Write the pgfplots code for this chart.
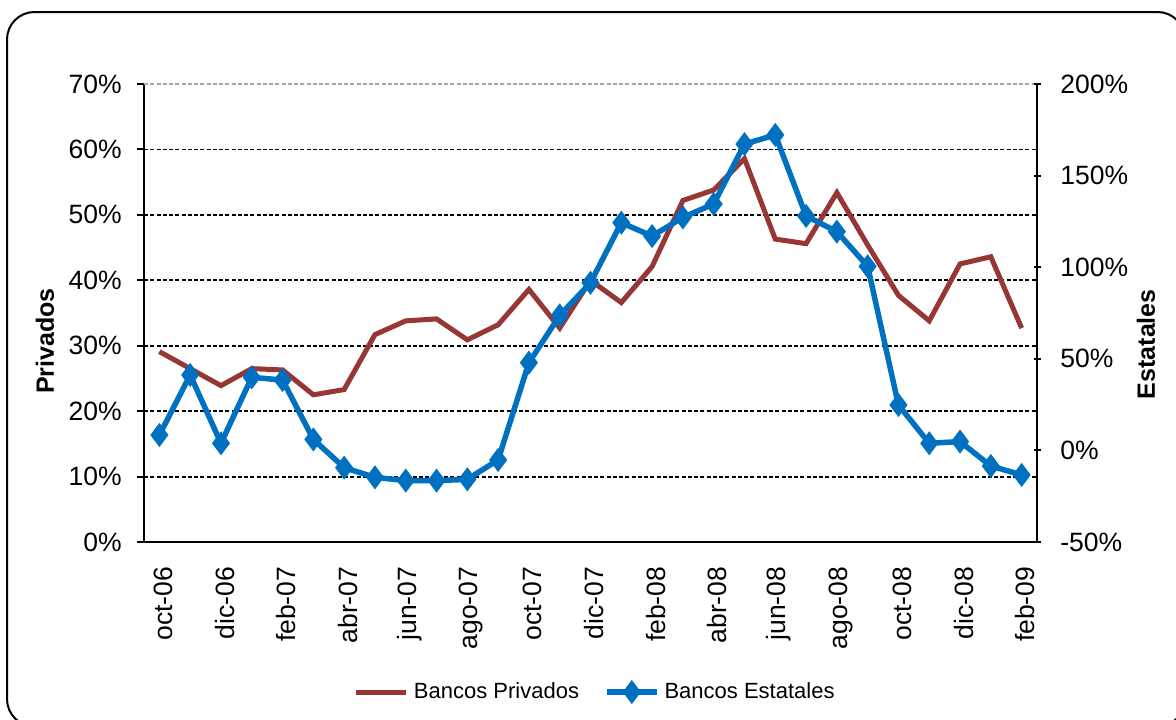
\documentclass[border=0pt]{standalone}
\usepackage{fontspec}
\setmainfont{Liberation Sans}
\usepackage{pgfplots}
\pgfplotsset{compat=1.18}
\usepackage{pgfplotstable}

\definecolor{privcol}{RGB}{150,55,53}
\definecolor{estcol}{RGB}{0,112,192}

% month index, Bancos Privados (left axis, %), Bancos Estatales (right axis, %)
\pgfplotstableread{
i priv est
0 29.1 8.4
1 26.5 41.2
2 23.9 3.9
3 26.5 39.9
4 26.3 38.4
5 22.5 6.0
6 23.3 -9.4
7 31.7 -14.7
8 33.8 -16.5
9 34.1 -16.5
10 30.9 -15.8
11 33.2 -5.2
12 38.6 47.9
13 32.7 73.7
14 40.0 91.5
15 36.6 124.3
16 42.1 117.0
17 52.2 127.2
18 53.8 134.5
19 58.6 167.2
20 46.3 172.2
21 45.6 128.0
22 53.4 119.4
23 45.4 100.5
24 37.7 24.8
25 33.8 3.9
26 42.5 4.8
27 43.6 -8.5
28 32.7 -13.4
}\datatable

\pgfplotsset{
  common/.style={
    at={(57.6pt,70.8pt)}, anchor=south west,
    scale only axis, width=357.2pt, height=183.2pt,
    xmin=-0.5, xmax=28.5,
    /pgf/number format/assume math mode=true,
    tick label style={font=\fontsize{10.6}{12}\selectfont},
    tick style={black, line width=0.8pt},
    major tick length=2.8pt,
    axis line style={black, line width=0.9pt},
    clip=false,
  },
}

\begin{document}
\begin{tikzpicture}
% outer frame
\draw[black, line width=0.8pt, rounded corners=11pt] (2.8pt,-3pt) rectangle (474pt,282.8pt);

\begin{axis}[
  common,
  axis x line*=bottom, axis y line*=left,
  ymin=0, ymax=70, ytick={0,10,...,70},
  yticklabel={\pgfmathprintnumber{\tick}\%},
  yticklabel style={xshift=-2.6pt},
  tick align=outside,
  extra y ticks={10,20,...,60}, extra y tick labels={},
  extra y tick style={ymajorgrids=true, major tick length=0pt},
  grid style={black, line width=0.75pt, dash pattern=on 1.6pt off 0.9pt},
  xtick={0,2,...,28},
  xticklabels={oct-06,dic-06,feb-07,abr-07,jun-07,ago-07,oct-07,dic-07,feb-08,abr-08,jun-08,ago-08,oct-08,dic-08,feb-09},
  xticklabel style={rotate=90, anchor=east, xshift=-3.6pt, yshift=-1.5pt},
  major x tick style={draw=none},
  extra x ticks={-0.5,0.5,...,28.5}, extra x tick labels={},
  extra x tick style={major x tick style={black, line width=0.8pt}, major tick length=2.8pt},
  ylabel={\bfseries Privados},
  ylabel style={font=\fontsize{9.7}{11}\selectfont},
  every axis y label/.style={at={(axis description cs:-0.111,0.439)}, rotate=90, anchor=center},
]
\draw[gray!70, line width=0.75pt, dash pattern=on 1.6pt off 0.9pt] (rel axis cs:0,1) -- (rel axis cs:1,1);
\addplot[privcol, line width=2pt, no marks] table[x=i, y=priv] {\datatable};
\end{axis}

\begin{axis}[
  common,
  axis x line=none, axis y line*=right,
  ymin=-50, ymax=200, ytick={-50,0,...,200},
  yticklabel={\pgfmathprintnumber{\tick}\%},
  yticklabel style={xshift=4.4pt},
  tick align=center,
  ylabel={\bfseries Estatales},
  ylabel style={font=\fontsize{9.7}{11}\selectfont},
  every axis y label/.style={at={(axis description cs:1.122,0.432)}, rotate=90, anchor=center},
  legend style={at={(axis description cs:0.507,-0.3275)}, anchor=center, draw=none, fill=none,
    font=\fontsize{8.8}{10}\selectfont, legend columns=2,
    /tikz/every even column/.append style={column sep=8pt}},
  legend image code/.code={
    \draw[#1, mark repeat=2, mark phase=2] plot coordinates {(0pt,0pt) (10pt,0pt) (20pt,0pt)};
  },
]
\addlegendimage{privcol, line width=2pt, no marks}
\addlegendentry{Bancos Privados}
\addplot[estcol, line width=2.2pt, mark=diamond*, mark size=3pt, mark options={solid, fill=estcol}] table[x=i, y=est] {\datatable};
\addlegendentry{Bancos Estatales}
\end{axis}

\pgfresetboundingbox
\useasboundingbox (0,0) rectangle (470.4pt,287.6pt);
\end{tikzpicture}
\end{document}
